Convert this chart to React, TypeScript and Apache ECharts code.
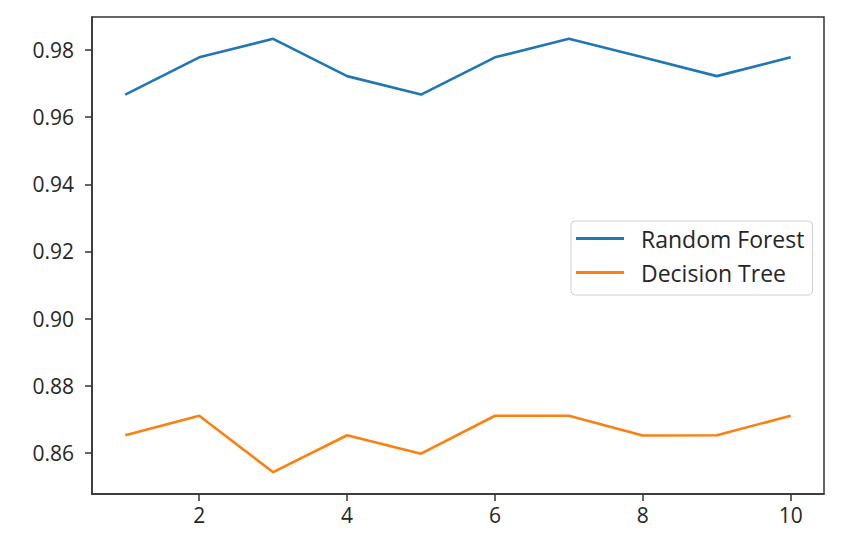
import React, { useEffect, useRef } from "react";
import * as echarts from "echarts";

const xValues = [1, 2, 3, 4, 5, 6, 7, 8, 9, 10];
const randomForest = [0.9667, 0.9778, 0.9833, 0.9722, 0.9667, 0.9778, 0.9833, 0.9778, 0.9722, 0.9778];
const decisionTree = [0.8653, 0.8711, 0.8543, 0.8653, 0.8598, 0.8711, 0.8711, 0.8652, 0.8653, 0.8711];
const xTicks = [2, 4, 6, 8, 10];
const yTicks = [0.86, 0.88, 0.9, 0.92, 0.94, 0.96, 0.98];
const seriesNames = ["Random Forest", "Decision Tree"];

export default function App() {
  const ref = useRef<HTMLDivElement>(null);
  useEffect(() => {
    const chart = echarts.init(ref.current!, null, { renderer: "svg" });
    const font = "Open Sans";
    const axisColor = "#333333";
    chart.setOption({
      animation: false,
      backgroundColor: "#ffffff",
      grid: {
        left: 92,
        top: 17,
        width: 732,
        height: 477,
        show: true,
        borderColor: axisColor,
        borderWidth: 1.5,
        backgroundColor: "transparent",
      },
      legend: {
        orient: "vertical",
        left: 571,
        top: 221,
        icon: "rect",
        itemWidth: 48,
        itemHeight: 3,
        itemGap: 11,
        padding: [6, 8, 11, 5],
        backgroundColor: "#ffffff",
        borderColor: "#d0d0d0",
        borderWidth: 1,
        borderRadius: 4,
        textStyle: {
          fontFamily: font,
          fontSize: 23,
          color: "#262626",
          lineHeight: 22,
          padding: [0, 0, 0, 12],
        },
        data: seriesNames,
      },
      xAxis: {
        type: "value",
        min: 0.55,
        max: 10.45,
        axisLine: { show: true, lineStyle: { color: axisColor, width: 1.5 } },
        splitLine: { show: false },
        axisTick: {
          show: true,
          length: 7,
          lineStyle: { color: axisColor, width: 1.5 },
          customValues: xTicks,
        },
        axisLabel: {
          fontFamily: font,
          fontSize: 21,
          color: "#262626",
          margin: 10,
          customValues: xTicks,
          formatter: (v: number) => String(v),
        },
      },
      yAxis: {
        type: "value",
        min: 0.8478,
        max: 0.9898,
        axisLine: { show: true, lineStyle: { color: axisColor, width: 1.5 } },
        splitLine: { show: false },
        axisTick: {
          show: true,
          length: 7,
          lineStyle: { color: axisColor, width: 1.5 },
          customValues: yTicks,
        },
        axisLabel: {
          fontFamily: font,
          fontSize: 21,
          color: "#262626",
          margin: 18,
          customValues: yTicks,
          formatter: (v: number) => v.toFixed(2),
        },
      },
      series: [
        {
          name: seriesNames[0],
          type: "line",
          data: xValues.map((x, i) => [x, randomForest[i]]),
          symbol: "none",
          lineStyle: { color: "#1f77b4", width: 2.6 },
          itemStyle: { color: "#1f77b4" },
        },
        {
          name: seriesNames[1],
          type: "line",
          data: xValues.map((x, i) => [x, decisionTree[i]]),
          symbol: "none",
          lineStyle: { color: "#ff7f0e", width: 2.6 },
          itemStyle: { color: "#ff7f0e" },
        },
      ],
    });
    return () => chart.dispose();
  }, []);
  return <div ref={ref} style={{ width: 848, height: 548, margin: -8 }} />;
}
